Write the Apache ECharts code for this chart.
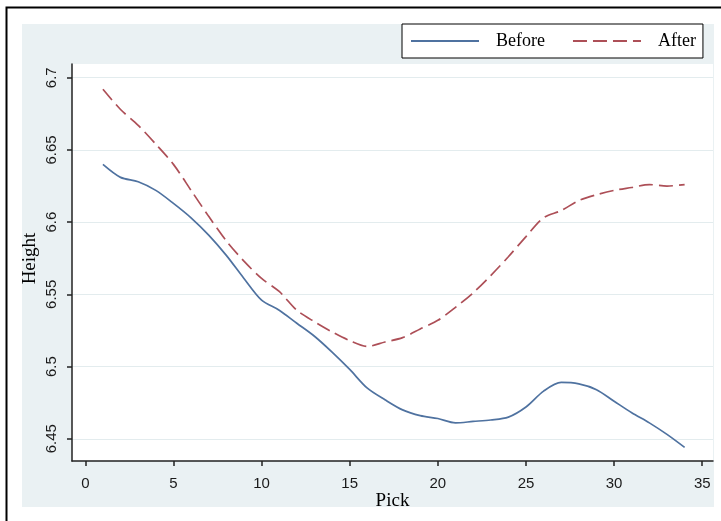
<!DOCTYPE html>
<html>
<head>
<meta charset="utf-8">
<script src="https://cdn.jsdelivr.net/npm/echarts@6/dist/echarts.min.js"></script>
<style>
html,body{margin:0;padding:0;background:#fff;}
#chart{width:721px;height:521px;}
</style>
</head>
<body>
<div id="chart"></div>
<script>
const picks = [1,2,3,4,5,6,7,8,9,10,11,12,13,14,15,16,17,18,19,20,21,22,23,24,25,26,27,28,29,30,31,32,33,34];
const before = [6.640,6.631,6.628,6.622,6.613,6.603,6.591,6.577,6.561,6.546,6.539,6.530,6.521,6.510,6.498,6.485,6.477,6.470,6.466,6.464,6.461,6.462,6.463,6.465,6.472,6.483,6.489,6.488,6.484,6.476,6.468,6.461,6.453,6.444];
const after = [6.692,6.678,6.667,6.654,6.640,6.622,6.604,6.587,6.573,6.561,6.552,6.539,6.531,6.524,6.518,6.514,6.517,6.520,6.526,6.532,6.541,6.551,6.563,6.576,6.590,6.603,6.608,6.615,6.619,6.622,6.624,6.626,6.625,6.626];
const xTicks = [0,5,10,15,20,25,30,35];
const yTicks = [6.45,6.5,6.55,6.6,6.65,6.7];
const seriesNames = ['Before','After'];

const chart = echarts.init(document.getElementById('chart'), null, {renderer:'canvas'});
const tickFont = 'Liberation Sans';
const titleFont = 'Liberation Serif';
chart.setOption({
  animation:false,
  backgroundColor:'#ffffff',
  graphic:[
    {type:'rect', z:-10, silent:true, shape:{x:6.5,y:7.5,width:760,height:560}, style:{fill:'#ffffff',stroke:'#000000',lineWidth:2}},
    {type:'rect', z:-9, silent:true, shape:{x:22,y:24,width:692,height:483}, style:{fill:'#eaf1f3'}}
  ],
  grid:{left:72, top:64, width:641, height:397, show:true, backgroundColor:'#ffffff', borderWidth:0, containLabel:false},
  legend:{
    data:seriesNames, left:402, top:24, orient:'horizontal',
    backgroundColor:'#ffffff', borderColor:'#000000', borderWidth:1,
    padding:[8,7,8,8], itemWidth:68, itemHeight:14, itemGap:27,
    itemStyle:{color:'rgba(0,0,0,0)', borderWidth:0, borderColor:'rgba(0,0,0,0)'},
    textStyle:{fontFamily:titleFont, fontSize:18, color:'#000', padding:[0,0,0,12]}
  },
  xAxis:{
    type:'value', min:-0.755, max:35.61,
    name:'Pick', nameLocation:'middle', nameGap:31, nameMoveOverlap:false,
    nameTextStyle:{fontFamily:titleFont, fontSize:19, color:'#000'},
    axisLine:{show:true, onZero:false, lineStyle:{color:'#222', width:1.5}},
    axisTick:{show:true, length:5, customValues:xTicks, lineStyle:{color:'#222', width:1.5}},
    axisLabel:{customValues:xTicks, margin:15, fontFamily:tickFont, fontSize:15, color:'#1a1a1a'},
    splitLine:{show:false}
  },
  yAxis:{
    type:'value', min:6.4346, max:6.7095,
    name:'Height', nameLocation:'middle', nameGap:32, nameRotate:90, nameMoveOverlap:false,
    nameTextStyle:{fontFamily:titleFont, fontSize:19, color:'#000', padding:[0,0,0,8]},
    axisLine:{show:true, onZero:false, lineStyle:{color:'#222', width:1.5}},
    axisTick:{show:true, length:5, customValues:yTicks, lineStyle:{color:'#222', width:1.5}},
    axisLabel:{customValues:yTicks, rotate:90, margin:13, fontFamily:tickFont, fontSize:15, color:'#1a1a1a'},
    splitLine:{show:true, lineStyle:{color:'#e3ecee', width:1.2}}
  },
  series:[
    {name:seriesNames[0], type:'line', symbol:'none', smooth:0.3,
     data:picks.map((p,i)=>[p,before[i]]),
     lineStyle:{color:'#4f72a0', width:1.7}, itemStyle:{color:'#4f72a0'}},
    {name:seriesNames[1], type:'line', symbol:'none', smooth:0.3,
     data:picks.map((p,i)=>[p,after[i]]),
     lineStyle:{color:'#ad4f57', width:1.7, type:[14,6]}, itemStyle:{color:'#ad4f57'}}
  ]
});
</script>
</body>
</html>
